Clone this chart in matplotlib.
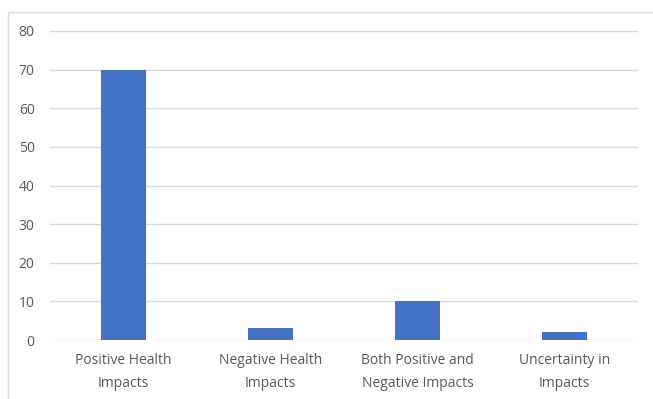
import matplotlib
matplotlib.use("Agg")
import matplotlib.pyplot as plt
import matplotlib.patches as mpatches

categories = ["Positive Health\nImpacts", "Negative Health\nImpacts",
              "Both Positive and\nNegative Impacts", "Uncertainty in\nImpacts"]
values = [70, 3, 10, 2]
yticks = [0, 10, 20, 30, 40, 50, 60, 70, 80]

BAR = "#4472C4"
GRD = "#D9D9D9"
TXT = "#595959"

plt.rcParams["font.family"] = ["Open Sans", "DejaVu Sans"]

W, H = 653, 399
fig = plt.figure(figsize=(W / 100, H / 100), dpi=100, facecolor="white")

# chart border (Excel-like frame, partly clipped)
fig.patches.append(mpatches.Rectangle((8 / W, -0.05), 1.1, 1 - 12 / H + 0.05,
                                      transform=fig.transFigure, fill=False,
                                      edgecolor=GRD, lw=1.0))

ax = fig.add_axes([50 / W, 1 - 340 / H, 588 / W, 309 / H])
x = range(len(categories))
ax.bar(x, values, width=0.31, color=BAR, zorder=3)

ax.set_xlim(-0.5, len(categories) - 0.5)
ax.set_ylim(0, 80)
ax.set_yticks(yticks)
ax.set_yticklabels([str(v) for v in yticks], fontsize=10, color=TXT)
ax.set_xticks(list(x))
ax.set_xticklabels(categories, fontsize=10, color=TXT, linespacing=1.75)
ax.tick_params(axis="both", length=0)
ax.tick_params(axis="y", pad=11)
ax.tick_params(axis="x", pad=9)

ax.grid(axis="y", color=GRD, lw=1.0, zorder=0)
for sp in ax.spines.values():
    sp.set_visible(False)

fig.savefig("out.png", dpi=100, facecolor="white")
